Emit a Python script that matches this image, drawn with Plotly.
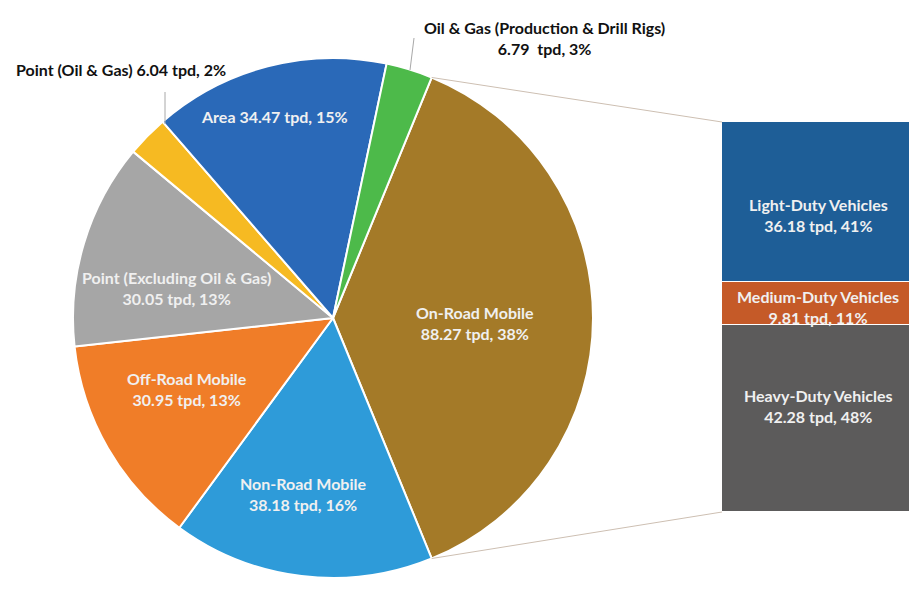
import math
import plotly.graph_objects as go

# page is 917x595 but the body has an 8px margin on each side, so keep the figure
# small enough not to overflow the window
PAGE_OFF = 8
W, H = 917 - PAGE_OFF, 595 - 2 * PAGE_OFF

# pie data (clockwise from the On-Road slice)
pie_labels = ["On-Road Mobile", "Non-Road Mobile", "Off-Road Mobile",
              "Point (Excluding Oil & Gas)", "Point (Oil & Gas)", "Area",
              "Oil & Gas (Production & Drill Rigs)"]
pie_values = [88.27, 38.18, 30.95, 30.05, 6.04, 34.47, 6.79]
pie_pcts = [38, 16, 13, 13, 2, 15, 3]
pie_colors = ["#A47A28", "#2E9BD9", "#F07D28", "#A6A6A6", "#F6BA22", "#2A69B8", "#4DBA4A"]

# breakdown of On-Road Mobile
bar_labels = ["Heavy-Duty Vehicles", "Medium-Duty Vehicles", "Light-Duty Vehicles"]
bar_values = [42.28, 9.81, 36.18]
bar_pcts = [48, 11, 41]
bar_colors = ["#5C5B5B", "#C55A28", "#1E5E97"]


def px(x, y):
    # screen pixel -> paper coords
    return (x - PAGE_OFF) / W, 1 - (y - PAGE_OFF) / H


# pie placement in screen pixels
cx, cy, r = 333, 318, 260
total = sum(pie_values)
rotation = 90 - 180 * pie_values[0] / total

dx0, dy0 = px(cx - r, cy + r)
dx1, dy1 = px(cx + r, cy - r)

fig = go.Figure()
fig.add_trace(go.Pie(
    labels=pie_labels, values=pie_values, sort=False, direction="clockwise",
    rotation=rotation, marker=dict(colors=pie_colors, line=dict(color="white", width=2)),
    textinfo="none", hoverinfo="label+value", showlegend=False,
    domain=dict(x=[dx0, dx1], y=[dy0, dy1]),
))

# stacked bar
bx0, bx1, by0, by1 = 722, 915, 122, 512
for lab, v, c in zip(bar_labels, bar_values, bar_colors):
    fig.add_trace(go.Bar(
        x=["On-Road"], y=[v], name=lab, marker=dict(color=c, line=dict(color="white", width=1)),
        width=1, xaxis="x", yaxis="y", showlegend=False,
    ))

# connector lines from On-Road slice edges to the bar
a0 = math.radians(rotation)
a1 = math.radians(rotation + 360 * pie_values[0] / total)
for a, (tx, ty) in [(a0, (bx0, by0)), (a1, (bx0, by1))]:
    sx, sy = cx + r * math.sin(a), cy - r * math.cos(a)
    x0, y0 = px(sx, sy)
    x1, y1 = px(tx, ty)
    fig.add_shape(type="line", xref="paper", yref="paper", x0=x0, y0=y0, x1=x1, y1=y1,
                  line=dict(color="#CDBFB2", width=1))

# leader lines for the small slices
for (x0, y0, x1, y1) in [(414, 38, 410, 70), (165, 92, 165, 124)]:
    p0 = px(x0, y0)
    p1 = px(x1, y1)
    fig.add_shape(type="line", xref="paper", yref="paper", x0=p0[0], y0=p0[1], x1=p1[0], y1=p1[1],
                  line=dict(color="#A8A8A8", width=1))

FONT = "Lato"
white = "#F0F0F0"


def label(x, y, text, color):
    lx, ly = px(x, y)
    fig.add_annotation(x=lx, y=ly, xref="paper", yref="paper", text=text, showarrow=False,
                       font=dict(family=FONT, size=16, color=color, weight="bold"),
                       xanchor="center", yanchor="middle", align="center")


def two(name, v, p):
    return f"{name}<br>{v:.2f} tpd, {p}%"


# pie labels
label(475, 323, two(pie_labels[0], pie_values[0], pie_pcts[0]), white)
label(303, 494, two(pie_labels[1], pie_values[1], pie_pcts[1]), white)
label(187, 389, two(pie_labels[2], pie_values[2], pie_pcts[2]), white)
label(176, 288, two(pie_labels[3], pie_values[3], pie_pcts[3]), white)
label(121, 69, f"{pie_labels[4]} {pie_values[4]:.2f} tpd, {pie_pcts[4]}%", "#111111")
label(274, 117, f"{pie_labels[5]} {pie_values[5]:.2f} tpd, {pie_pcts[5]}%", white)
label(544, 38, f"{pie_labels[6]}<br>{pie_values[6]:.2f}  tpd, {pie_pcts[6]}%", "#111111")

# bar labels
label(818, 215, two(bar_labels[2], bar_values[2], bar_pcts[2]), white)
label(818, 307, two(bar_labels[1], bar_values[1], bar_pcts[1]), white)
label(818, 406, two(bar_labels[0], bar_values[0], bar_pcts[0]), white)

fig.update_layout(
    width=W, height=H,
    margin=dict(l=0, r=0, t=0, b=0),
    paper_bgcolor="white", plot_bgcolor="white",
    barmode="stack", bargap=0,
    xaxis=dict(domain=[px(bx0, 0)[0], px(bx1, 0)[0]], visible=False, fixedrange=True),
    yaxis=dict(domain=[px(0, by1)[1], px(0, by0)[1]], range=[0, sum(bar_values)],
               visible=False, fixedrange=True),
)

fig.write_html("out.html")
